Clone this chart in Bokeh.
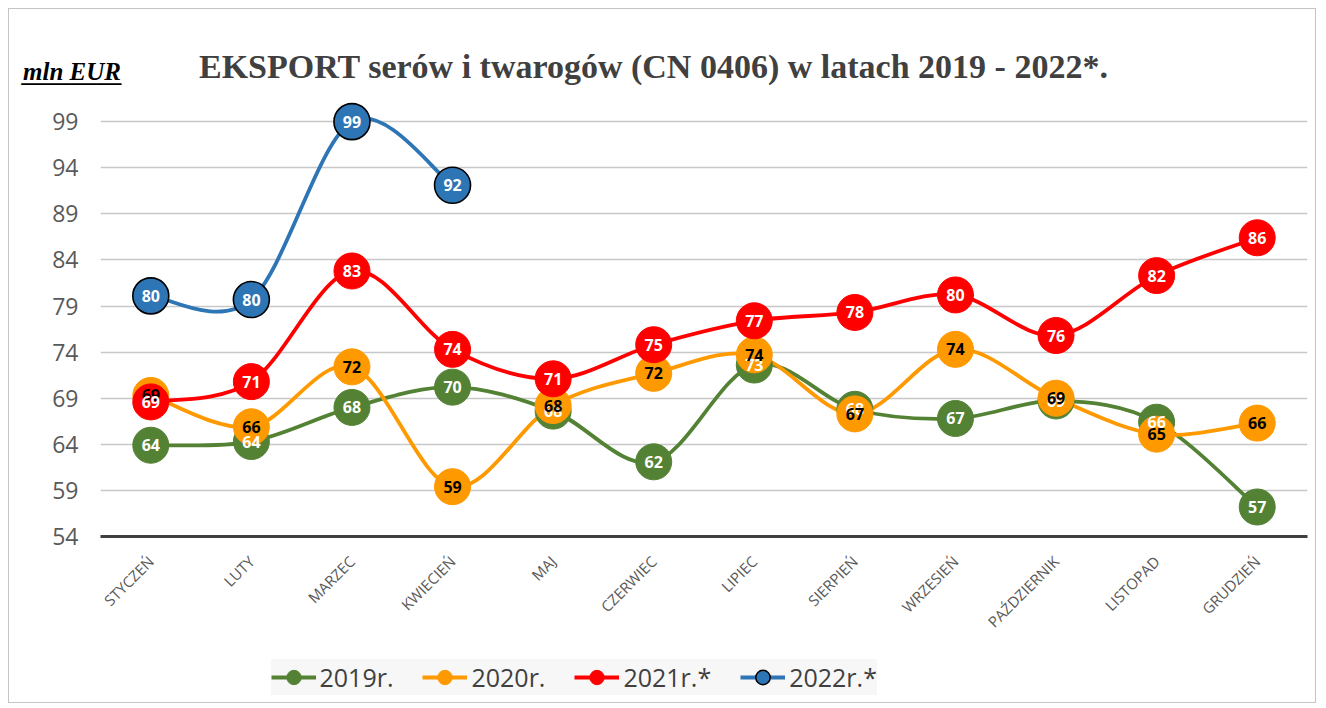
from math import pi
from bokeh.plotting import figure
from bokeh.layouts import column
from bokeh.models import Range1d, FixedTicker, Legend, LegendItem, ColumnDataSource, Title
from bokeh.core.properties import value
from bokeh.embed import file_html
from bokeh.resources import INLINE

months = ["STYCZEŃ", "LUTY", "MARZEC", "KWIECIEŃ", "MAJ", "CZERWIEC", "LIPIEC",
          "SIERPIEŃ", "WRZESIEŃ", "PAŹDZIERNIK", "LISTOPAD", "GRUDZIEŃ"]
y2019 = [63.9, 64.3, 68.0, 70.2, 67.6, 62.1, 72.6, 67.8, 66.8, 68.7, 66.4, 57.2]
y2020 = [69.3, 65.9, 72.4, 59.4, 68.2, 71.7, 73.7, 67.3, 74.3, 69.0, 65.1, 66.3]
y2021 = [68.6, 70.8, 82.8, 74.3, 71.1, 74.8, 77.4, 78.3, 80.2, 75.8, 82.3, 86.4]
y2022 = [80.1, 79.7, 99.0, 92.1]
series_names = ["2019r.", "2020r.", "2021r.*", "2022r.*"]
y_ticks = [54, 59, 64, 69, 74, 79, 84, 89, 94, 99]
title_text = "EKSPORT serów i twarogów (CN 0406) w latach 2019 - 2022*."
unit_text = "mln EUR"

colors = ["#548235", "#FF9900", "#FF0000", "#2E75B6"]
label_colors = ["white", "black", "white", "white"]
outline_colors = ["#548235", "#FF9900", "#FF0000", "black"]
all_series = [y2019, y2020, y2021, y2022]

FONT = "Open Sans"
W = 1306

# ---------------- main chart ----------------
p = figure(width=W, frame_width=1207, frame_height=437, output_backend="svg",
           toolbar_location=None, title=None, x_range=Range1d(0, 12), y_range=Range1d(54, 101.4),
           min_border_left=91, min_border_right=8, min_border_top=90, min_border_bottom=106)
p.outline_line_color = None

serif = "Liberation Serif"
t_main = Title(text=title_text, align="left", offset=98.5, standoff=28.4, text_font=serif,
               text_font_style="bold", text_font_size="34px", text_color="#404040")
t_uline = Title(text="________", align="left", offset=-77.5, standoff=-107.8, text_font=serif,
                text_font_style="bold italic", text_font_size="25px", text_color="black")
t_unit = Title(text=unit_text, align="left", offset=-77.5, standoff=-105.8, text_font=serif,
               text_font_style="bold italic", text_font_size="25px", text_color="black")
p.above = [t_main, t_uline, t_unit]

xpos = [i + 0.5 for i in range(len(months))]
p.xaxis.ticker = FixedTicker(ticks=xpos)
p.xaxis.major_label_overrides = {x: m for x, m in zip(xpos, months)}
p.xaxis.major_label_orientation = pi / 4
p.xaxis.major_tick_line_color = None
p.xaxis.major_tick_out = 0
p.xaxis.minor_tick_line_color = None
p.xaxis.minor_tick_out = 0
p.xaxis.axis_line_color = "#404040"
p.xaxis.axis_line_width = 3
p.xaxis.major_label_text_font = FONT
p.xaxis.major_label_text_font_size = "15px"
p.xaxis.major_label_text_color = "#595959"
p.xaxis.major_label_standoff = 22

p.yaxis.ticker = FixedTicker(ticks=y_ticks)
p.yaxis.axis_line_color = None
p.yaxis.major_tick_line_color = None
p.yaxis.major_tick_out = 0
p.yaxis.minor_tick_line_color = None
p.yaxis.minor_tick_out = 0
p.yaxis.major_label_text_font = FONT
p.yaxis.major_label_text_font_size = "23px"
p.yaxis.major_label_text_color = "#595959"
p.yaxis.major_label_standoff = 22

p.xgrid.grid_line_color = None
p.ygrid.grid_line_color = "#c8c8c8"
p.ygrid.grid_line_width = 1.6


def smooth_segments(xs, ys):
    n = len(xs)
    d = dict(x0=[], y0=[], x1=[], y1=[], cx0=[], cy0=[], cx1=[], cy1=[])
    for i in range(n - 1):
        a = i - 1 if i > 0 else i
        b = i + 2 if i + 2 < n else i + 1
        d["x0"].append(xs[i]); d["y0"].append(ys[i])
        d["x1"].append(xs[i + 1]); d["y1"].append(ys[i + 1])
        d["cx0"].append(xs[i] + (xs[i + 1] - xs[a]) / 6)
        d["cy0"].append(ys[i] + (ys[i + 1] - ys[a]) / 6)
        d["cx1"].append(xs[i + 1] - (xs[b] - xs[i]) / 6)
        d["cy1"].append(ys[i + 1] - (ys[b] - ys[i]) / 6)
    return d


for ys, c in zip(all_series, colors):
    xs = xpos[:len(ys)]
    src = ColumnDataSource(smooth_segments(xs, ys))
    p.bezier(x0="x0", y0="y0", x1="x1", y1="y1", cx0="cx0", cy0="cy0", cx1="cx1", cy1="cy1",
             source=src, line_color=c, line_width=3.8, line_cap="round")

for ys, c, oc in zip(all_series, colors, outline_colors):
    xs = xpos[:len(ys)]
    p.scatter(xs, ys, size=36, fill_color=c, line_color=oc,
              line_width=1.6 if oc == "black" else 1)

for ys, lc in zip(all_series, label_colors):
    xs = xpos[:len(ys)]
    p.text(xs, ys, text=[str(int(round(v))) for v in ys], text_color=lc,
           text_font=value(FONT), text_font_style="bold", text_font_size="16px",
           text_align="center", text_baseline="middle")

# ---------------- legend strip ----------------
lf = figure(width=W, height=60, output_backend="svg", toolbar_location=None, title=None,
            x_range=Range1d(0, 12), y_range=Range1d(0, 1), x_axis_type=None, y_axis_type=None,
            min_border_left=91, min_border_right=8, min_border_top=0, min_border_bottom=0)
lf.outline_line_color = None
lf.xgrid.grid_line_color = None
lf.ygrid.grid_line_color = None

items = []
for name, ys, c, oc in zip(series_names, all_series, colors, outline_colors):
    xs = xpos[:len(ys)]
    lr = lf.line(xs, ys, line_color=c, line_width=4)          # outside the strip's view
    dr = lf.scatter(xs, ys, fill_color=c, line_color=oc,
                    line_width=1.5 if oc == "black" else 1)
    items.append(LegendItem(label=name, renderers=[lr, dr]))
legend = Legend(items=items, orientation="horizontal", location=(170.5, 7.5),
                glyph_width=45, glyph_height=36, label_standoff=4, spacing=29, padding=7,
                margin=0, background_fill_color="#f7f7f7", background_fill_alpha=1,
                border_line_color=None, label_text_font=FONT, label_text_font_size="25px",
                label_text_color="#404040")
lf.add_layout(legend)

layout = column(p, lf, spacing=0,
                styles={"margin-left": "8px", "margin-top": "8px",
                        "border": "1.5px solid #c4c4c4"})

open("out.html", "w").write(file_html(layout, INLINE))
